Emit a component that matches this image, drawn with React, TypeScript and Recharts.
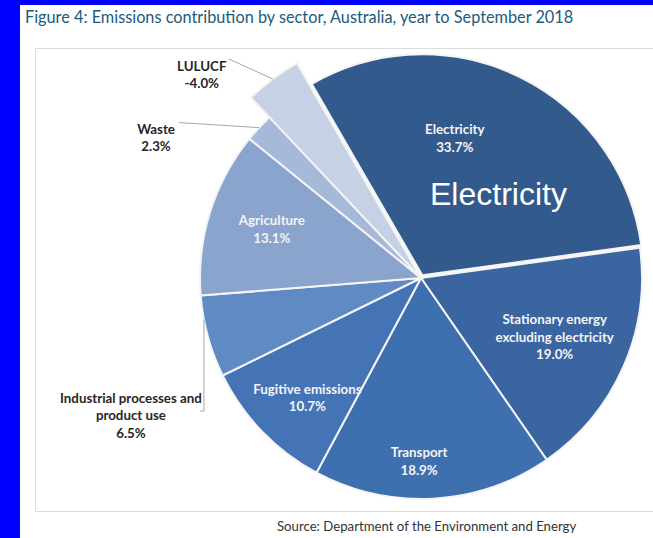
import { Cell, Pie, PieChart } from "recharts";

const SECTORS = [
  "Electricity",
  "Stationary energy excluding electricity",
  "Transport",
  "Fugitive emissions",
  "Industrial processes and product use",
  "Agriculture",
  "Waste",
  "LULUCF",
];
const SHARES = [33.7, 19.0, 18.9, 10.7, 6.5, 13.1, 2.3, -4.0];
const LABEL_LINES = [
  ["Electricity"],
  ["Stationary energy", "excluding electricity"],
  ["Transport"],
  ["Fugitive emissions"],
  ["Industrial processes and", "product use"],
  ["Agriculture"],
  ["Waste"],
  ["LULUCF"],
];
const COLORS = [
  "#335a8c",
  "#3a65a0",
  "#3e6fae",
  "#4474b5",
  "#608ac4",
  "#8ba4ce",
  "#a7b9d9",
  "#c6d1e6",
];

// label placement: shift from the slice's mid angle (degrees) and distance from centre
const LABEL_SHIFT = [-12.5, 0, 3.8, -2.5, -10, 1, -14.9, -10.5];
const LABEL_RADIUS = [144, 146, 183, 165, 321, 157, 300, 299];
const OUTSIDE = [4, 6, 7];

const data = SECTORS.map((s, i) => ({
  name: s,
  share: SHARES[i],
  value: Math.abs(SHARES[i]),
}));

const CX = 421;
const CY = 278;
const R = 221;
const RAD = Math.PI / 180;

function polar(cx: number, cy: number, r: number, angle: number) {
  return { x: cx + r * Math.cos(-angle * RAD), y: cy + r * Math.sin(-angle * RAD) };
}

function Etiqueta(props: any) {
  const { cx, cy, midAngle, outerRadius, index } = props;
  const lines = [...LABEL_LINES[index], `${SHARES[index].toFixed(1)}%`];
  const p = polar(cx, cy, LABEL_RADIUS[index], midAngle - LABEL_SHIFT[index]);
  const alto = 17.5;
  const y0 = p.y - ((lines.length - 1) * alto) / 2;
  const fora = OUTSIDE.includes(index);

  let linha = null;
  if (index === 6) {
    const e = polar(cx, cy, outerRadius, midAngle);
    linha = <polyline points={`${p.x + 23},${y0 - 6} ${e.x},${e.y}`} />;
  } else if (index === 7) {
    const e = polar(cx, cy, 248, midAngle);
    linha = <polyline points={`${p.x + 27},${y0 - 7} ${e.x},${e.y}`} />;
  } else if (index === 4) {
    const x = p.x + 73;
    const ey = cy + Math.sqrt(outerRadius * outerRadius - (cx - x) * (cx - x));
    linha = <polyline points={`${x - 4},${y0 + 13} ${x},${y0 + 13} ${x},${ey}`} />;
  }

  return (
    <g>
      {linha && (
        <g fill="none" stroke="#a6a6a6" strokeWidth={1}>
          {linha}
        </g>
      )}
      <text
        x={p.x}
        y={y0}
        textAnchor="middle"
        dominantBaseline="central"
        fontFamily="Lato, sans-serif"
        fontWeight={700}
        fontSize={13.3}
        fill={fora ? "#262626" : "#f4f4f4"}
      >
        {lines.map((l, i) => (
          <tspan key={i} x={p.x} y={y0 + i * alto}>
            {l}
          </tspan>
        ))}
      </text>
    </g>
  );
}

export default function App() {
  return (
    <div
      style={{
        position: "absolute",
        left: 0,
        top: 0,
        width: 653,
        height: 538,
        overflow: "hidden",
        background: "#ffffff",
      }}
    >
      <div style={{ position: "absolute", left: 0, top: 0, width: 653, height: 5, background: "#0000fe" }} />
      <div style={{ position: "absolute", left: 0, top: 0, width: 20, height: 538, background: "#0000fe" }} />
      <div
        style={{
          position: "absolute",
          left: 25,
          top: 7,
          fontFamily: "Lato, sans-serif",
          fontSize: 16.3,
          color: "#1a5b7e",
          whiteSpace: "nowrap",
        }}
      >
        Figure 4: Emissions contribution by sector, Australia, year to September 2018
      </div>
      <div
        style={{
          position: "absolute",
          left: 35,
          top: 48,
          width: 640,
          height: 462,
          border: "1px solid #dcdcdc",
        }}
      />
      <div style={{ position: "absolute", left: 0, top: 0 }}>
        <PieChart width={653} height={538} margin={{ top: 0, right: 0, bottom: 0, left: 0 }}>
          <Pie
            data={data}
            dataKey="value"
            nameKey="name"
            cx={CX}
            cy={CY}
            outerRadius={R}
            startAngle={120}
            endAngle={-240}
            stroke="#f4f4f4"
            strokeWidth={2}
            label={Etiqueta}
            labelLine={false}
            isAnimationActive={false}
          >
            {data.map((d, i) => (
              <Cell
                key={d.name}
                fill={i === 0 || i === 7 ? "transparent" : COLORS[i]}
                stroke={i === 0 || i === 7 ? "none" : "#f4f4f4"}
              />
            ))}
          </Pie>
          <Pie
            data={data}
            dataKey="value"
            nameKey="name"
            cx={CX + 3 * Math.sin(26 * RAD)}
            cy={CY - 3 * Math.cos(26 * RAD)}
            outerRadius={R}
            startAngle={120}
            endAngle={-240}
            isAnimationActive={false}
          >
            {data.map((d, i) => (
              <Cell
                key={d.name}
                fill={i === 0 ? COLORS[i] : "transparent"}
                stroke={i === 0 ? "#f4f4f4" : "none"}
                strokeWidth={2}
              />
            ))}
          </Pie>
          <Pie
            data={data}
            dataKey="value"
            nameKey="name"
            cx={CX}
            cy={CY}
            outerRadius={248}
            startAngle={120}
            endAngle={-240}
            isAnimationActive={false}
          >
            {data.map((d, i) => (
              <Cell
                key={d.name}
                fill={i === 7 ? COLORS[i] : "transparent"}
                stroke={i === 7 ? "#f4f4f4" : "none"}
                strokeWidth={2}
              />
            ))}
          </Pie>
        </PieChart>
      </div>
      <div
        style={{
          position: "absolute",
          left: 430,
          top: 176,
          fontFamily: "'Liberation Sans', Arial, sans-serif",
          fontSize: 32,
          color: "#ffffff",
          whiteSpace: "nowrap",
        }}
      >
        Electricity
      </div>
      <div
        style={{
          position: "absolute",
          left: 277,
          top: 518,
          fontFamily: "Lato, sans-serif",
          fontSize: 13.2,
          color: "#333333",
          whiteSpace: "nowrap",
        }}
      >
        Source: Department of the Environment and Energy
      </div>
    </div>
  );
}
